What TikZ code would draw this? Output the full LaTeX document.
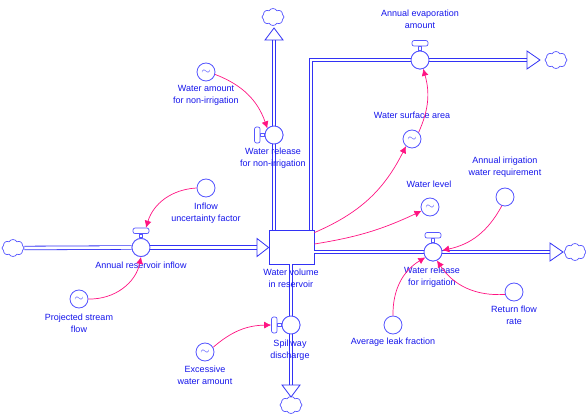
\documentclass[tikz,border=0pt]{standalone}
\usepackage{fontspec}
\setmainfont{Liberation Sans}
\usetikzlibrary{arrows.meta,positioning,shapes.symbols}
\definecolor{shp}{RGB}{85,85,255}
\definecolor{pipec}{RGB}{50,50,245}
\definecolor{txtc}{RGB}{20,20,235}
\definecolor{linkc}{RGB}{255,20,130}

\begin{document}
\begin{tikzpicture}[
  x=1pt, y=-1pt,
  font=\fontsize{9}{12}\selectfont,
  stock/.style={draw=pipec, line width=0.8pt, fill=white, minimum width=45pt, minimum height=34pt, inner sep=0pt},
  valve/.style={circle, draw=shp, line width=0.8pt, fill=white, minimum size=18pt, inner sep=0pt},
  aux/.style={circle, draw=shp, line width=0.8pt, fill=white, minimum size=18pt, inner sep=0pt, text=shp, font=\large},
  src/.style={cloud, cloud puffs=8, cloud puff arc=120, aspect=1.3, draw=shp, line width=0.7pt, minimum width=22pt, minimum height=17pt, inner sep=0pt},
  stemv/.style={draw=shp, line width=0.7pt, fill=white, minimum width=3pt, minimum height=3.5pt, inner sep=0pt},
  stemh/.style={draw=shp, line width=0.7pt, fill=white, minimum width=3.5pt, minimum height=3pt, inner sep=0pt},
  barh/.style={draw=shp, line width=0.7pt, fill=white, rounded corners=2pt, minimum width=16pt, minimum height=5.5pt, inner sep=0pt},
  barv/.style={draw=shp, line width=0.7pt, fill=white, rounded corners=2pt, minimum width=5.5pt, minimum height=16pt, inner sep=0pt},
  lbl/.style={text=txtc, align=center, inner sep=1pt},
  pipe/.style={draw=pipec, double=white, double distance=2.8pt, line width=0.8pt},
  flowtri/.style={draw=pipec, line width=0.8pt, fill=white},
  link/.style={draw=linkc, line width=0.7pt, -{Latex[length=7pt, width=7pt]}}
]
  \useasboundingbox (0,0) rectangle (586,414);

  % stock and clouds
  \node[stock] (stock) at (291.5,247) {};
  \node[src] (cin) at (13,248) {};
  \node[src] (cni) at (273,17) {};
  \node[src] (cev) at (556,60) {};
  \node[src] (cir) at (575,252) {};
  \node[src] (csp) at (291,405) {};

  % valves
  \node[valve] (inv) at (141,247.5) {};
  \node[valve] (nirv) at (274,135) {};
  \node[valve] (evv) at (420,60) {};
  \node[valve] (irv) at (433,252) {};
  \node[valve] (spv) at (291,325) {};

  \node[stemv, above=0pt of inv] (instem) {};
  \node[barh, above=0pt of instem] (inbar) {};
  \node[stemv, above=0pt of evv] (evstem) {};
  \node[barh, above=0pt of evstem] (evbar) {};
  \node[stemv, above=0pt of irv] (irstem) {};
  \node[barh, above=0pt of irstem] (irbar) {};
  \node[stemh, left=0pt of nirv] (nistem) {};
  \node[barv, left=0pt of nistem] (nibar) {};
  \node[stemh, left=0pt of spv] (spstem) {};
  \node[barv, left=0pt of spstem] (spbar) {};

  \coordinate (intip) at (257,247.5);
  \coordinate (nitip) at (274,40);
  \coordinate (niend) at (274,28);
  \coordinate (evcorner) at (311,60);
  \coordinate (evtip) at (527,60);
  \coordinate (evend) at (540,60);
  \coordinate (irtip) at (550,252);
  \coordinate (irend) at (563,252);
  \coordinate (sptip) at (291,385);
  \coordinate (spend) at (291,397);

  % pipes
  \draw[pipe] (cin.east) -- (inv.west);
  \draw[pipe] (inv.east) -- (intip);
  \draw[flowtri] ([yshift=9pt]intip) -- (stock.west |- intip) -- ([yshift=-9pt]intip) -- cycle;
  \draw[pipe] (stock.north -| nirv) -- (nirv.south);
  \draw[pipe] (nirv.north) -- (nitip);
  \draw[flowtri] ([xshift=-9pt]nitip) -- (niend) -- ([xshift=9pt]nitip) -- cycle;
  \draw[pipe] (stock.north -| evcorner) -- (evcorner) -- (evv.west);
  \draw[pipe] (evv.east) -- (evtip);
  \draw[flowtri] ([yshift=9pt]evtip) -- (evend) -- ([yshift=-9pt]evtip) -- cycle;
  \draw[pipe] (stock.east |- irv) -- (irv.west);
  \draw[pipe] (irv.east) -- (irtip);
  \draw[flowtri] ([yshift=9pt]irtip) -- (irend) -- ([yshift=-9pt]irtip) -- cycle;
  \draw[pipe] (stock.south -| spv) -- (spv.north);
  \draw[pipe] (spv.south) -- (sptip);
  \draw[flowtri] ([xshift=-9pt]sptip) -- (spend) -- ([xshift=9pt]sptip) -- cycle;

  % redraw valves over pipes
  \node[valve] at (inv) {};
  \node[valve] at (nirv) {};
  \node[valve] at (evv) {};
  \node[valve] at (irv) {};
  \node[valve] at (spv) {};

  % auxiliaries
  \node[aux] (wanon) at (206,72) {$\sim$};
  \node[aux] (infl) at (206,188) {};
  \node[aux] (psf) at (79,299) {$\sim$};
  \node[aux] (ewa) at (205,352) {$\sim$};
  \node[aux] (wsa) at (412,139) {$\sim$};
  \node[aux] (wlev) at (430,207) {$\sim$};
  \node[aux] (aiwr) at (505,197) {};
  \node[aux] (rfr) at (514,292) {};
  \node[aux] (alf) at (393,325) {};

  % labels
  \node[lbl] (stocklbl) at (291,278.5) {Water volume\\in reservoir};
  \node[lbl] (invlbl) at (141,265) {Annual reservoir inflow};
  \node[lbl] (nirvlbl) at (273,158.5) {Water release\\for non-irrigation};
  \node[lbl] (evvlbl) at (420,19) {Annual evaporation\\amount};
  \node[lbl] (irvlbl) at (432,277.5) {Water release\\for irrigation};
  \node[lbl] (spvlbl) at (290,350.5) {Spillway\\discharge};
  \node[lbl] (wanonlbl) at (206,95.5) {Water amount\\for non-irrigation};
  \node[lbl] (infllbl) at (206,213.5) {Inflow\\uncertainty factor};
  \node[lbl] (psflbl) at (79,323.5) {Projected stream\\flow};
  \node[lbl] (ewalbl) at (205,375.5) {Excessive\\water amount};
  \node[lbl] (wsalbl) at (412,115) {Water surface area};
  \node[lbl] (wlevlbl) at (429,184) {Water level};
  \node[lbl] (aiwrlbl) at (505,167.5) {Annual irrigation\\water requirement};
  \node[lbl] (rfrlbl) at (514,315.5) {Return flow\\rate};
  \node[lbl] (alflbl) at (393,342) {Average leak fraction};

  % links
  \draw[link] (wanon.-15) to[bend left=25] (nirv.north west);
  \draw[link] (infl.west) to[bend right=35] ([xshift=5pt]inbar.north);
  \draw[link] (psf.east) to[bend right=40] (inv.south);
  \draw[link] (ewa.30) to[bend left=20] (spbar.west);
  \draw[link] ([yshift=-3pt]stock.north east) to[bend right=20] (wsa.230);
  \draw[link] (wsa.45) to[bend right=20] (evv.-70);
  \draw[link] ([yshift=3pt]stock.east) to[bend right=8] (wlev.205);
  \draw[link] (aiwr.250) to[bend left=25] (irv.10);
  \draw[link] (rfr.195) to[bend left=30] (irv.-65);
  \draw[link] (alf.north) to[bend left=30] (irv.215);
\end{tikzpicture}
\end{document}
